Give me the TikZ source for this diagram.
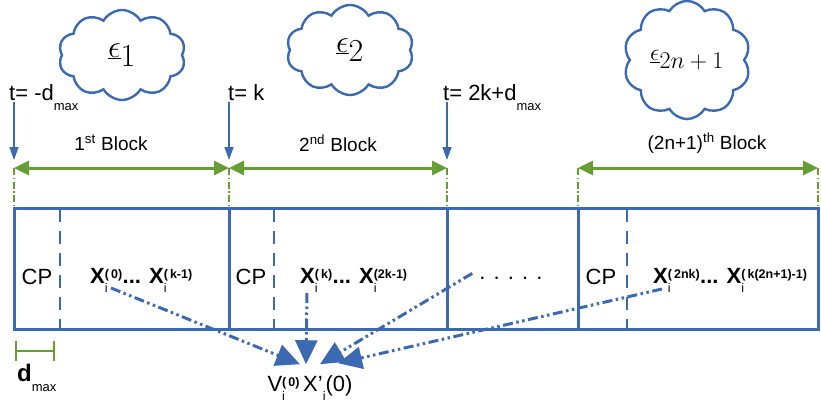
\RequirePackage{fix-cm}
\documentclass[tikz,border=0pt]{standalone}
\usepackage{fontspec}
\setmainfont{Liberation Sans}
\usetikzlibrary{arrows.meta,shapes.symbols,positioning}
\definecolor{lineblue}{RGB}{60,106,178}
\definecolor{spangreen}{RGB}{102,158,52}
% symbol with sub- and superscript stacked
\newcommand{\stacked}[3]{#1\raisebox{-9pt}{\fontsize{12.5}{14}\selectfont\begin{tabular}[b]{@{}l@{}}\bfseries #3\\ #2\end{tabular}}}
\newcommand{\lowsub}[1]{\raisebox{-0.42em}{\fontsize{13}{13}\selectfont #1}}
\tikzset{
  frame/.style={draw=lineblue, line width=3pt},
  cpline/.style={draw=lineblue, line width=2.4pt, dash pattern=on 13pt off 9pt},
  edgeline/.style={draw=spangreen, line width=2pt, dash pattern=on 7pt off 2.5pt on 1.5pt off 2.5pt},
  span/.style={draw=spangreen, line width=3pt, {Triangle[length=15pt,width=14pt]}-{Triangle[length=15pt,width=14pt]}},
  timearrow/.style={draw=lineblue, line width=1.5pt, -{Triangle[length=13pt,width=9pt]}},
  feed/.style={draw=lineblue, line width=3pt, dash pattern=on 10pt off 3.5pt on 2.5pt off 3.5pt on 2.5pt off 3.5pt, -{Triangle[length=24pt,width=22pt]}},
  cloudbox/.style={cloud, draw=lineblue, line width=2.4pt, cloud puffs=10, cloud puff arc=120,
    minimum width=127pt, minimum height=90pt, inner sep=0pt},
  txt/.style={font=\fontsize{22}{24}\selectfont, inner sep=0pt},
  blocktxt/.style={font=\fontsize{19}{21}\selectfont, inner sep=0pt},
}
\begin{document}
\begin{tikzpicture}[x=1pt,y=-1pt]
  \useasboundingbox (0,0) rectangle (821,409);
  % Clouds
  \node[cloudbox] (cloud1) at (122,55) {\fontsize{32}{32}\selectfont$\underline{\epsilon}_{\textstyle 1}$};
  \node[cloudbox] (cloud2) at (350,50) {\fontsize{32}{32}\selectfont$\underline{\epsilon}_{\textstyle 2}$};
  \node[cloudbox, minimum height=95pt] (cloud3) at (687,60) {\fontsize{24}{24}\selectfont$\underline{\epsilon}_{\textstyle 2n+1}$};
  % Time instants
  \node[txt, anchor=base west] (t0) at (9,101) {t= -d\lowsub{max}};
  \node[txt, anchor=base west] (t1) at (228,101) {t= k};
  \node[txt, anchor=base west] (t2) at (443,101) {t= 2k+d\lowsub{max}};
  \coordinate (b0) at (14,160);
  \coordinate (b1) at (229,160);
  \coordinate (b2) at (447,160);
  \draw[timearrow] (b0 |- 0,102) -- (b0);
  \draw[timearrow] (b1 |- 0,102) -- (b1);
  \draw[timearrow] (b2 |- 0,102) -- (b2);
  % Block spans
  \node[blocktxt] (lab1) at (111,143) {1\textsuperscript{st} Block};
  \node[blocktxt] (lab2) at (338,143) {2\textsuperscript{nd} Block};
  \node[blocktxt] (lab3) at (707,143) {(2n+1)\textsuperscript{th} Block};
  \draw[span] (14,168) -- (229,168);
  \draw[span] (229,168) -- (447,168);
  \draw[span] (578,168) -- (818,168);
  \foreach \xx in {14,229,447,578,818}
    \draw[edgeline] (\xx,168) -- (\xx,208);
  % Frame of the blocks
  \draw[frame] (14,208) rectangle (818,329);
  \foreach \xx in {229,447,578}
    \draw[frame] (\xx,208) -- (\xx,329);
  \foreach \xx in {60,274,627}
    \draw[cpline] (\xx,209) -- (\xx,329);
  % Contents
  \node[txt] (cp1) at (37,277) {CP};
  \node[txt] (cp2) at (251,277) {CP};
  \node[txt] (cp3) at (601,277) {CP};
  \node[txt, anchor=base west] (x0) at (90,283) {\stacked{\textbf{X}}{i}{(\,0)}};
  \node[txt, right=0pt of x0.base east, anchor=base west] (x0e) {\textbf{...} \stacked{\textbf{X}}{i}{(\,k-1)}};
  \node[txt, anchor=base west] (xk) at (300,283) {\stacked{\textbf{X}}{i}{(\,k)}};
  \node[txt, right=0pt of xk.base east, anchor=base west] (xke) {\textbf{...} \stacked{\textbf{X}}{i}{(2k-1)}};
  \node[txt] (dots) at (511,278) {. . . . .};
  \node[txt, anchor=base west] (xn) at (653,283) {\stacked{\textbf{X}}{i}{(\,2nk)}};
  \node[txt, right=0pt of xn.base east, anchor=base west] (xne) {\textbf{...} \stacked{\textbf{X}}{i}{(\,k(2n+1)-1)}};
  % Cyclic prefix length
  \draw[draw=spangreen, line width=2.4pt] (16,341) -- (16,361) (16,351) -- (54,351) (54,341) -- (54,361);
  \node[txt, anchor=base west] (dmax) at (17,381) {\fontsize{24}{24}\selectfont\textbf{d}\lowsub{max}};
  % Combined output
  \node[txt] (out) at (310,390) {\stacked{V}{i}{(\,0)}\,\stacked{X'}{i}{}(0)};
  \draw[feed] ([xshift=21pt,yshift=-5pt]x0.base west) -- ([shift={(-10,-11)}]out.north);
  \draw[feed] ([xshift=7pt,yshift=-10pt]xk.base west) -- ([shift={(-4,-11)}]out.north);
  \draw[feed] ([shift={(-7,-6)}]dots.south west) -- ([shift={(10,-11)}]out.north);
  \draw[feed] ([xshift=9pt,yshift=-6pt]xn.base west) -- ([shift={(28,-12)}]out.north);
\end{tikzpicture}
\end{document}
